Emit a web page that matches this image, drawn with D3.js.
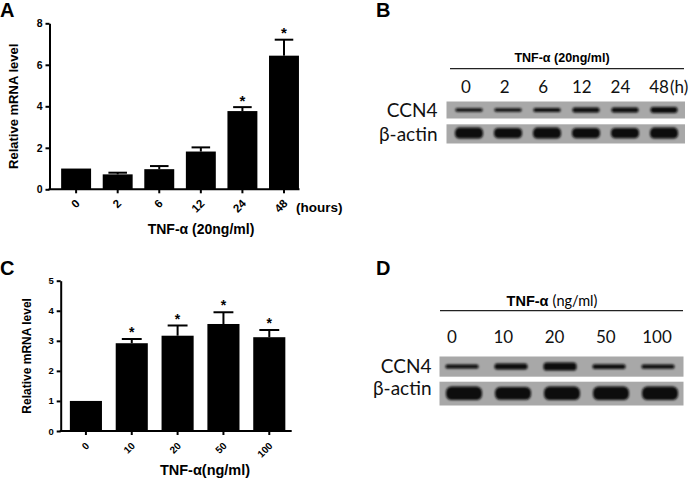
<!DOCTYPE html>
<html>
<head>
<meta charset="utf-8">
<script src="https://cdn.jsdelivr.net/npm/d3@7"></script>
<style>
  html, body { margin: 0; padding: 0; background: #fff; }
  svg { display: block; }
  .bold { font-family: "Liberation Sans", Arial, sans-serif; font-weight: bold; }
  .blot { font-family: "Lato", "Open Sans", sans-serif; }
</style>
</head>
<body>
<svg id="fig" width="695" height="482"></svg>
<script>
// ---------- Data ----------
// Panel A: time course (hours), TNF-α 20 ng/ml
const timeCats = ["0", "2", "6", "12", "24", "48"];
const timeMean = [1.0, 0.72, 0.97, 1.82, 3.77, 6.44];
const timeErr  = [0.0, 0.08, 0.15, 0.20, 0.19, 0.77];
const timeSig  = [false, false, false, false, true, true];
const timeYTicks = [0, 2, 4, 6, 8];

// Panel C: dose response (ng/ml)
const doseCats = ["0", "10", "20", "50", "100"];
const doseMean = [1.0, 2.92, 3.17, 3.56, 3.12];
const doseErr  = [0.0, 0.14, 0.34, 0.39, 0.24];
const doseSig  = [false, true, true, true, true];
const doseYTicks = [0, 1, 2, 3, 4, 5];

// Panel B: western blot, time course (relative band density)
const blotBLanes = ["0", "2", "6", "12", "24", "48"];
const blotBCcn4  = [0.55, 0.55, 0.65, 0.8, 0.8, 1.0];
const blotBActin = [1.0, 0.95, 1.0, 0.95, 0.95, 1.0];

// Panel D: western blot, dose response (relative band density)
const blotDLanes = ["0", "10", "20", "50", "100"];
const blotDCcn4  = [0.5, 0.75, 1.0, 0.6, 0.55];
const blotDActin = [1.0, 0.95, 1.0, 1.0, 1.0];

const svg = d3.select("#fig");

// blur filter for blot bands
const defs = svg.append("defs");
defs.append("filter").attr("id", "blur").attr("x", "-20%").attr("y", "-50%")
  .attr("width", "140%").attr("height", "200%")
  .append("feGaussianBlur").attr("stdDeviation", 0.9);

// panel letters
[["A", 0, 17], ["B", 376, 17], ["C", 0, 275], ["D", 376, 275]].forEach(([t, x, y]) => {
  svg.append("text").attr("class", "bold").attr("x", x).attr("y", y)
    .attr("font-size", 20).text(t);
});

// ---------- Bar chart helper ----------
function barChart(opt) {
  const g = svg.append("g");
  const y = d3.scaleLinear().domain(opt.yDomain).range([opt.y0, opt.y1]);
  const x = d3.scaleBand().domain(opt.cats).range(opt.xRange)
    .paddingInner(opt.padIn).paddingOuter(opt.padOut);

  // bars
  g.selectAll("rect.bar").data(opt.cats).join("rect")
    .attr("x", d => x(d)).attr("width", x.bandwidth())
    .attr("y", (d, i) => y(opt.mean[i]))
    .attr("height", (d, i) => y(0) - y(opt.mean[i]))
    .attr("fill", "#000");

  // error bars (upper)
  const capW = x.bandwidth() * 0.62;
  opt.cats.forEach((d, i) => {
    if (opt.err[i] <= 0) return;
    const cx = x(d) + x.bandwidth() / 2;
    g.append("line").attr("x1", cx).attr("x2", cx)
      .attr("y1", y(opt.mean[i])).attr("y2", y(opt.mean[i] + opt.err[i]))
      .attr("stroke", "#000").attr("stroke-width", 2);
    g.append("line").attr("x1", cx - capW / 2).attr("x2", cx + capW / 2)
      .attr("y1", y(opt.mean[i] + opt.err[i])).attr("y2", y(opt.mean[i] + opt.err[i]))
      .attr("stroke", "#000").attr("stroke-width", 2);
  });

  // significance stars
  opt.cats.forEach((d, i) => {
    if (!opt.sig[i]) return;
    const cx = x(d) + x.bandwidth() / 2;
    g.append("text").attr("class", "bold").attr("x", cx)
      .attr("y", y(opt.mean[i] + opt.err[i]) - 10 + opt.starSize * 0.58)
      .attr("text-anchor", "middle").attr("font-size", opt.starSize).text("*");
  });

  // y axis
  const ya = g.append("g").attr("transform", `translate(${opt.xAxis},0)`)
    .call(d3.axisLeft(y).tickValues(opt.yTicks).tickFormat(d3.format("d"))
      .tickSize(4).tickSizeOuter(0).tickPadding(3));
  ya.selectAll("path,line").attr("stroke", "#000").attr("stroke-width", 2);
  ya.selectAll("text").attr("class", "bold").attr("font-size", opt.tickFont).attr("fill", "#000");

  // x axis line
  g.append("line").attr("x1", opt.xAxis - 1).attr("x2", opt.xEnd)
    .attr("y1", y(0)).attr("y2", y(0)).attr("stroke", "#000").attr("stroke-width", 2);
  opt.cats.forEach(d => {
    const cx = x(d) + x.bandwidth() / 2;
    g.append("line").attr("x1", cx).attr("x2", cx).attr("y1", y(0)).attr("y2", y(0) + 4)
      .attr("stroke", "#000").attr("stroke-width", 2);
    g.append("text").attr("class", "bold")
      .attr("transform", `translate(${cx + 1.5},${y(0) + opt.labOff}) rotate(-45)`)
      .attr("text-anchor", "end").attr("dy", "0.35em")
      .attr("font-size", opt.xFont).text(d);
  });

  // y title
  g.append("text").attr("class", "bold")
    .attr("transform", `translate(${opt.yTitleX},${(opt.y0 + opt.y1) / 2}) rotate(-90)`)
    .attr("text-anchor", "middle").attr("dy", "0.35em")
    .attr("font-size", opt.yTitleFont).text("Relative mRNA level");
  // x title
  g.append("text").attr("class", "bold").attr("x", opt.xTitleX).attr("y", opt.xTitleY)
    .attr("text-anchor", "middle").attr("font-size", opt.xTitleFont).text(opt.xTitle);
  return { g, x, y };
}

const A = barChart({
  cats: timeCats, mean: timeMean, err: timeErr, sig: timeSig,
  yDomain: [0, 8], y0: 189.3, y1: 23.3, yTicks: timeYTicks,
  xRange: [49.5, 310.6], padIn: 0.28, padOut: 0.28, xAxis: 49.5, xEnd: 299.5,
  tickFont: 10.5, xFont: 11.5, labOff: 12, starSize: 15,
  yTitleX: 13, yTitleFont: 13, xTitle: "TNF-α (20ng/ml)", xTitleX: 201, xTitleY: 234, xTitleFont: 14
});
A.g.append("text").attr("class", "bold").attr("x", 296).attr("y", 212)
  .attr("font-size", 13.5).text("(hours)");

barChart({
  cats: doseCats, mean: doseMean, err: doseErr, sig: doseSig,
  yDomain: [0, 5], y0: 431, y1: 280.7, yTicks: doseYTicks,
  xRange: [60.7, 294.5], padIn: 0.3, padOut: 0.2, xAxis: 60.7, xEnd: 291.7,
  tickFont: 9.5, xFont: 10, labOff: 13, starSize: 14,
  yTitleX: 26.5, yTitleFont: 12, xTitle: "TNF-α(ng/ml)", xTitleX: 205, xTitleY: 475, xTitleFont: 14.5
});

// ---------- Blot helper ----------
function blot(opt) {
  const g = svg.append("g");
  const lane = d3.scalePoint().domain(opt.lanes).range(opt.laneRange);
  const labX = d3.scalePoint().domain(opt.lanes).range(opt.labRange);

  const t = g.append("text").attr("x", opt.titleX).attr("y", opt.titleY)
    .attr("text-anchor", "middle").attr("font-size", opt.titleSize);
  t.append("tspan").attr("class", "bold").text(opt.title[0]);
  t.append("tspan").attr("class", opt.title[2] ? "blot" : "bold").text(opt.title[1]);

  g.append("line").attr("x1", opt.lineX[0]).attr("x2", opt.lineX[1])
    .attr("y1", opt.lineY).attr("y2", opt.lineY).attr("stroke", "#222").attr("stroke-width", 1.2);

  g.selectAll("text.lane").data(opt.lanes).join("text").attr("class", "blot")
    .attr("x", d => labX(d)).attr("y", opt.labY).attr("text-anchor", "middle")
    .attr("font-size", 17).attr("fill", "#111").text(d => d);
  if (opt.unit) {
    g.append("text").attr("class", "blot").attr("x", opt.unit.x).attr("y", opt.labY)
      .attr("font-size", 17).attr("fill", "#111").text(opt.unit.t);
  }

  opt.rows.forEach(r => {
    g.append("rect").attr("x", opt.rectX[0]).attr("width", opt.rectX[1] - opt.rectX[0])
      .attr("y", r.y0).attr("height", r.y1 - r.y0).attr("fill", "#a8a8a8");
    g.append("text").attr("class", "blot").attr("x", opt.rowLabX).attr("y", r.labY)
      .attr("text-anchor", "end").attr("dy", "0.35em").attr("font-size", 19)
      .attr("fill", "#111").text(r.name);
    const h = d3.scaleLinear().domain([0, 1]).range([0, r.maxH]);
    const cy = (r.y0 + r.y1) / 2 + (r.shift || 0);
    g.selectAll(null).data(opt.lanes).join("rect")
      .attr("x", d => lane(d) + (r.dx || 0) - r.w / 2).attr("width", r.w)
      .attr("y", (d, i) => cy - h(r.vals[i]) / 2).attr("height", (d, i) => h(r.vals[i]))
      .attr("rx", (d, i) => Math.min(r.w / 2, h(r.vals[i]) / 2) * 0.8)
      .attr("fill", "#0b0b0b").attr("filter", "url(#blur)");
  });
}

blot({
  lanes: blotBLanes, laneRange: [469, 664], labRange: [466, 659],
  title: ["TNF-α ", "(20ng/ml)", false], titleSize: 12.5, titleX: 562, titleY: 62,
  lineX: [450, 684], lineY: 68.7,
  labY: 93, unit: { x: 670, t: "(h)" },
  rectX: [446.5, 685], rowLabX: 437.5,
  rows: [
    { name: "CCN4", y0: 101.5, y1: 118.5, labY: 110, vals: blotBCcn4, maxH: 6, w: 27 },
    { name: "β-actin", y0: 124.3, y1: 143.5, labY: 134, vals: blotBActin, maxH: 11, w: 28, shift: -0.8 }
  ]
});

blot({
  lanes: blotDLanes, laneRange: [462, 658], labRange: [452, 657],
  title: ["TNF-α ", "(ng/ml)", true], titleSize: 14.5, titleX: 552, titleY: 306,
  lineX: [440, 683], lineY: 310.7,
  labY: 343,
  rectX: [439.5, 683.5], rowLabX: 431.5,
  rows: [
    { name: "CCN4", y0: 356.5, y1: 376.7, labY: 366, vals: blotDCcn4, maxH: 8, w: 33 },
    { name: "β-actin", y0: 381.7, y1: 405.5, labY: 388, vals: blotDActin, maxH: 13.5, w: 36, dx: 2, shift: -0.3 }
  ]
});
</script>
</body>
</html>
